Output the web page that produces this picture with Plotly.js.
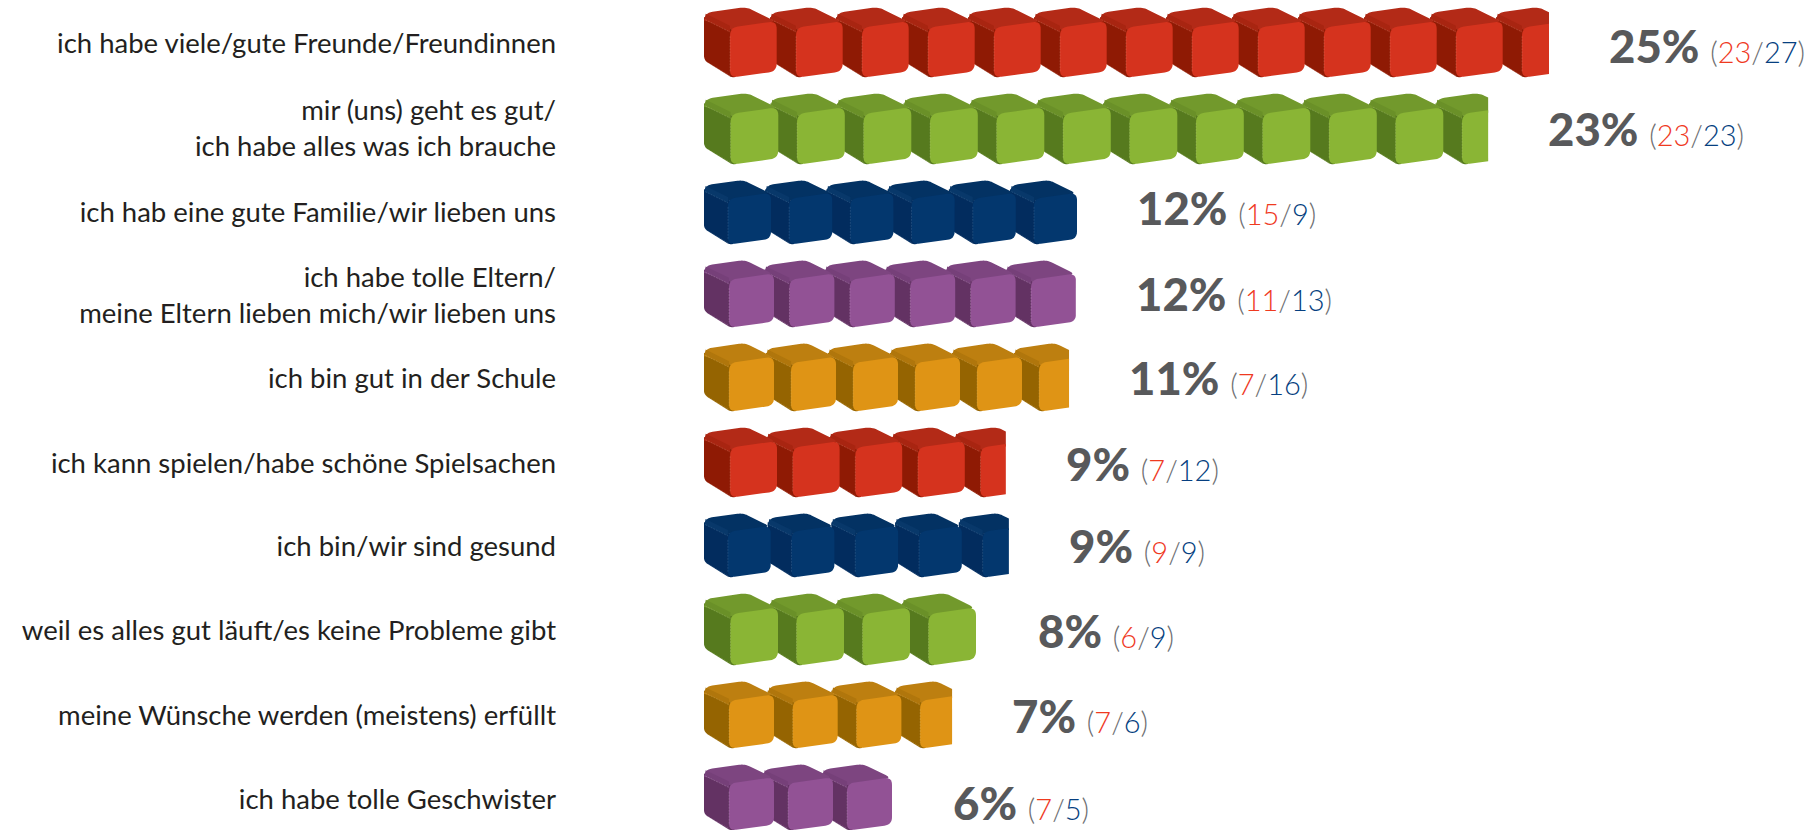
<!DOCTYPE html>
<html>
<head>
<meta charset="utf-8">
<script src="https://cdn.plot.ly/plotly-3.0.1.min.js"></script>
<style>html,body{margin:0;padding:0;background:#fff;overflow:hidden}#chart{width:1818px;height:830px}</style>
</head>
<body>
<div id="chart"></div>
<script>
const categories = [
  "ich habe viele/gute Freunde/Freundinnen",
  "mir (uns) geht es gut/<br>ich habe alles was ich brauche",
  "ich hab eine gute Familie/wir lieben uns",
  "ich habe tolle Eltern/<br>meine Eltern lieben mich/wir lieben uns",
  "ich bin gut in der Schule",
  "ich kann spielen/habe schöne Spielsachen",
  "ich bin/wir sind gesund",
  "weil es alles gut läuft/es keine Probleme gibt",
  "meine Wünsche werden (meistens) erfüllt",
  "ich habe tolle Geschwister"
];
const totals = [25, 23, 12, 12, 11, 9, 9, 8, 7, 6];
const girls  = [23, 23, 15, 11, 7, 7, 9, 6, 7, 7];
const boys   = [27, 23, 9, 13, 16, 12, 9, 9, 6, 5];
const barLengths = [25, 23.2, 11.04, 11.0, 10.8, 8.93, 9.02, 8.1, 7.34, 5.59];
const cubeCounts = [13, 12, 6, 6, 6, 5, 5, 4, 4, 3];
const palettes = {
  red:    {front:"#D5331E", top:"#B32A17", band:"#A82511", side:"#8F1A04", hi:"rgba(255,220,200,0.30)"},
  green:  {front:"#8AB535", top:"#72992C", band:"#6A9028", side:"#567A1E", hi:"rgba(235,245,200,0.30)"},
  blue:   {front:"#03376E", top:"#033263", band:"#08386A", side:"#022C5E", hi:"rgba(190,215,240,0.25)"},
  purple: {front:"#925295", top:"#7D4580", band:"#764079", side:"#633263", hi:"rgba(240,215,240,0.35)"},
  orange: {front:"#DF9415", top:"#BD7F10", band:"#B0760C", side:"#956401", hi:"rgba(250,230,180,0.30)"}
};
const rowColors = ["red","green","blue","purple","orange","red","blue","green","orange","purple"];
const rowPitch = [66, 66.5, 61.2, 60.4, 62, 62.6, 63.7, 66, 63.7, 59];
const rowWidth = [72.7, 74.3, 67, 70, 70, 73, 66.7, 74, 70, 70];
const rowHeight = [70, 71, 64, 67, 68, 70, 64, 72, 67, 66];
const rowDy = [0, 2.5, 2, -0.5, -1, 0, -1, -1, 0.5, -1];
const textDy = [3, 2, -3, -1, -1, 1, -1, 0, 1.5, 4];
const labelDy = [1, 2, 2, 1, 0, 1, 0, 0, 1, 1];
const PX_PER_X = 33.8, PX_PER_ROW = 84, LEFT_PX = 704, ROW0_PX = 42;
const LABEL_GAP_PX = 58;
const T_W = 218, T_H = 210;
const tFront = [[78,62,24],[218,42,24],[218,193,24],[78,212,22]];
const tTop   = [[0,18,26],[127,0,18],[216,44,20],[95,72,0],[0,40,0]];
const tBand  = [[5,20,0],[78,56,0],[78,75,0],[3,38,0]];
const tSide  = [[0,30,0],[95,72,0],[95,210,0],[82,211,7],[0,160,14]];
const tHi    = [[[4,38],[78,75]], [[5,163],[78,206]], [[78,88],[78,194]]];
function rounded(poly){
  const out = [], n = poly.length;
  for(let i=0;i<n;i++){
    const p = poly[i], a = poly[(i-1+n)%n], b = poly[(i+1)%n], r = p[2];
    if(!r){ out.push([p[0],p[1]]); continue; }
    const la = Math.hypot(a[0]-p[0],a[1]-p[1]), lb = Math.hypot(b[0]-p[0],b[1]-p[1]);
    const s = [p[0]+(a[0]-p[0])*r/la, p[1]+(a[1]-p[1])*r/la];
    const e = [p[0]+(b[0]-p[0])*r/lb, p[1]+(b[1]-p[1])*r/lb];
    for(let k=0;k<=8;k++){
      const t=k/8, u=1-t;
      out.push([u*u*s[0]+2*u*t*p[0]+t*t*e[0], u*u*s[1]+2*u*t*p[1]+t*t*e[1]]);
    }
  }
  return out;
}
function clipRight(pts, lim){
  const out=[];
  for(let i=0;i<pts.length;i++){
    const a=pts[i], b=pts[(i+1)%pts.length];
    const ain=a[0]<=lim, bin=b[0]<=lim;
    if(ain) out.push(a);
    if(ain!==bin){ const t=(lim-a[0])/(b[0]-a[0]); out.push([lim, a[1]+(b[1]-a[1])*t]); }
  }
  return out;
}
function toData(pt, row, cube){
  return [
    (cube*rowPitch[row] + pt[0]/T_W*rowWidth[row])/PX_PER_X,
    row + (rowDy[row] + (pt[1]/T_H-0.5)*rowHeight[row])/PX_PER_ROW
  ];
}
function polyTrace(tpl,row,cube,color){
  const pts = clipRight(rounded(tpl).map(p=>toData(p,row,cube)), barLengths[row]);
  if(!pts.length) return null;
  pts.push(pts[0]);
  return {type:"scatter",mode:"lines",x:pts.map(p=>p[0]),y:pts.map(p=>p[1]),fill:"toself",
    fillcolor:color,line:{width:0,color:color,simplify:false},hoverinfo:"skip",showlegend:false};
}
const traces = [];
categories.forEach((c,row)=>{
  const pal = palettes[rowColors[row]];
  for(let cube=cubeCounts[row]-1;cube>=0;cube--){
    [[tSide,pal.side],[tTop,pal.top],[tBand,pal.band],[tFront,pal.front]].forEach(([t,col])=>{
      const tr = polyTrace(t,row,cube,col); if(tr) traces.push(tr);
    });
    const hx=[],hy=[];
    tHi.forEach(seg=>{
      const a=toData(seg[0],row,cube), b=toData(seg[1],row,cube);
      if(a[0]<barLengths[row]){
        const ex=Math.min(b[0],barLengths[row]);
        hx.push(a[0],ex,null); hy.push(a[1],a[1]+(b[1]-a[1])*(b[0]===a[0]?1:(ex-a[0])/(b[0]-a[0])),null);
      }
    });
    traces.push({type:"scatter",mode:"lines",x:hx,y:hy,line:{width:0.6,color:pal.hi,dash:"2px,1px"},hoverinfo:"skip",showlegend:false});
  }
});
const COL_PCT="#58595B", COL_PAREN="#6D6E71", COL_RED="#EF3A1F", COL_BLUE="#063F80";
const annotations = categories.map((c,i)=>({
  xref:"x",yref:"y",x:barLengths[i]+LABEL_GAP_PX/PX_PER_X,y:i,xanchor:"left",yanchor:"middle",
  yshift:-textDy[i],showarrow:false,align:"left",
  font:{family:"Lato",size:29,color:COL_PAREN,weight:300},
  text:`<span style="font-size:45.5px;font-weight:900;color:${COL_PCT}">${totals[i]}% </span>`+
       `<span style="font-size:29px;font-weight:300">(<span style="color:${COL_RED}">${girls[i]}</span>/<span style="color:${COL_BLUE}">${boys[i]}</span>)</span>`
}));
const layout = {
  width:1818,height:830,margin:{l:700,r:0,t:0,b:0,pad:0},
  paper_bgcolor:"#fff",plot_bgcolor:"#fff",showlegend:false,
  xaxis:{range:[-4/PX_PER_X,(1818-LEFT_PX)/PX_PER_X],visible:false,fixedrange:true},
  yaxis:{range:[(830-ROW0_PX)/PX_PER_ROW,-ROW0_PX/PX_PER_ROW],tickmode:"array",
    tickvals:categories.map((c,i)=>i+labelDy[i]/PX_PER_ROW),ticktext:categories,showgrid:false,zeroline:false,showline:false,
    ticks:"",ticklabelstandoff:143,tickfont:{family:"Lato",size:27.5,color:"#231F20"},fixedrange:true},
  annotations
};
Plotly.newPlot("chart",traces,layout,{displayModeBar:false,staticPlot:true});
</script>
</body>
</html>
